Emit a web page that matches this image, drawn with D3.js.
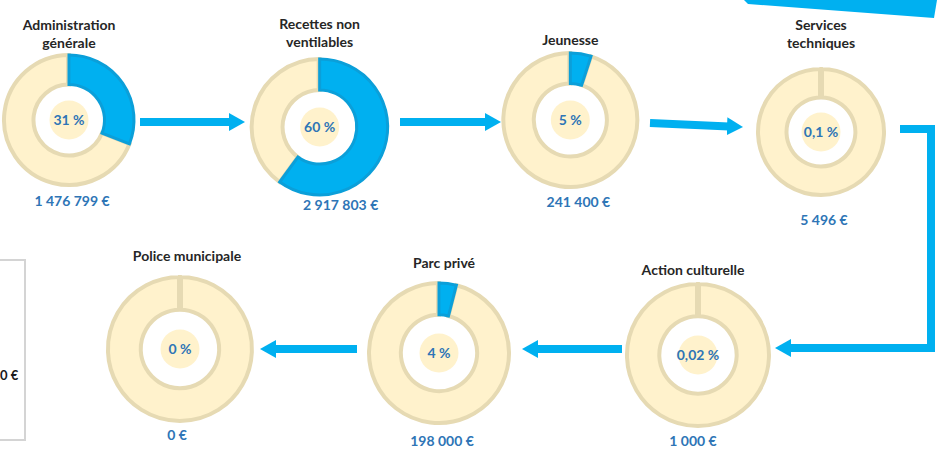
<!DOCTYPE html>
<html>
<head>
<meta charset="utf-8">
<script src="https://cdn.jsdelivr.net/npm/d3@7"></script>
<style>
  html, body { margin: 0; padding: 0; background: #fff; }
  svg { display: block; font-family: Lato, "Open Sans", sans-serif; }
</style>
</head>
<body>
<div id="chart"></div>
<script>
// Data
const categories = ["Administration générale", "Recettes non ventilables", "Jeunesse", "Services techniques",
                    "Police municipale", "Parc privé", "Action culturelle"];
const titleLines = [["Administration", "générale"], ["Recettes non", "ventilables"], ["Jeunesse"], ["Services", "techniques"],
                    ["Police municipale"], ["Parc privé"], ["Action culturelle"]];
const shares = [31, 60, 5, 0.1, 0, 4, 0.02];
const shareLabels = ["31 %", "60 %", "5 %", "0,1 %", "0 %", "4 %", "0,02 %"];
const amounts = [1476799, 2917803, 241400, 5496, 0, 198000, 1000];

// Layout of the slide (donut positions, label offsets)
const width = 937, height = 451;
const topRow = categories.slice(0, 4);
const bottomRow = [categories[4], categories[5], categories[6]];
const xTop = d3.scalePoint().domain(topRow).range([69, 821]);
const xBottom = d3.scalePoint().domain(bottomRow).range([180, 698]);
const layout = [
  {cy: 120, r: 67, titleY: 30, valueY: 206},
  {cy: 127, r: 70, titleY: 29, valueY: 210, valueDx: 21},
  {cy: 120, r: 69, titleY: 45, valueY: 207, valueDx: 8},
  {cy: 132, r: 65, titleY: 30, valueY: 225},
  {cy: 349, r: 74, titleY: 261, valueY: 440, titleDx: 7, valueDx: -3},
  {cy: 353, r: 72, titleY: 268, valueY: 446, titleDx: 5},
  {cy: 355, r: 73, titleY: 275, valueY: 446, titleDx: -5, valueDx: -5}
];

const beige = "#fff2cc", beigeStroke = "#e6dab3";
const blue = "#00b0f0", blueStroke = "#0b9fd9";
const textBlue = "#2e75b6";

const fmt = d3.formatLocale({decimal: ",", thousands: "\u00a0", grouping: [3], currency: ["", "\u00a0€"]}).format("$,");

const svg = d3.select("#chart").append("svg")
    .attr("width", width)
    .attr("height", height);

// arrow head marker
svg.append("defs").append("marker")
    .attr("id", "head")
    .attr("markerUnits", "userSpaceOnUse")
    .attr("viewBox", "0 0 16 18")
    .attr("refX", 2).attr("refY", 9)
    .attr("markerWidth", 16).attr("markerHeight", 18)
    .attr("orient", "auto")
  .append("path")
    .attr("d", "M0,0L16,9L0,18Z")
    .attr("fill", blue);

// corner banner (cut off in the source slide)
svg.append("path")
    .attr("d", "M744,0L937,0L934,18L748,4Z")
    .attr("fill", blue);

// left frame, cut off in the source slide
svg.append("rect")
    .attr("x", -6).attr("y", 260)
    .attr("width", 31).attr("height", 180)
    .attr("fill", "none")
    .attr("stroke", "#d4d4d4")
    .attr("stroke-width", 2);
svg.append("text")
    .attr("x", 0).attr("y", 380)
    .attr("font-size", 13).attr("font-weight", 700)
    .attr("fill", "#1a1a1a")
    .text("0\u00a0€");

// arrows between the donuts
const arrows = [
  [[140, 122], [231, 122]],
  [[400, 122], [487, 122]],
  [[650, 123], [729, 126.4]],
  [[900, 129], [931, 129], [931, 348], [789, 348]],
  [[622, 349], [536, 349]],
  [[357, 349], [274, 349]]
];
const line = d3.line().curve(d3.curveLinear);
svg.append("g")
  .selectAll("path")
  .data(arrows)
  .join("path")
    .attr("d", line)
    .attr("fill", "none")
    .attr("stroke", blue)
    .attr("stroke-width", 8)
    .attr("stroke-linejoin", "miter")
    .attr("marker-end", "url(#head)");

const pie = d3.pie().sort(null).value(d => d);

const nodes = svg.append("g")
  .selectAll("g")
  .data(categories)
  .join("g")
    .attr("transform", (d, i) => {
      const x = i < 4 ? xTop(d) : xBottom(d);
      return `translate(${x},${layout[i].cy})`;
    });

nodes.each(function(d, i) {
  const g = d3.select(this);
  const L = layout[i];
  const inner = L.r * 0.53, outer = L.r - 2;
  const arc = d3.arc().innerRadius(inner).outerRadius(outer);
  const slices = pie([shares[i], 100 - shares[i]]);
  slices[1].endAngle = Math.min(slices[1].endAngle, 2 * Math.PI - 0.002);

  // remainder of the ring
  g.append("path")
    .attr("d", arc(slices[1]))
    .attr("fill", beige)
    .attr("stroke", beigeStroke)
    .attr("stroke-width", 4);

  // separator at 12 o'clock
  g.append("line")
    .attr("x1", 0).attr("y1", -inner)
    .attr("x2", 0).attr("y2", -outer)
    .attr("stroke", beigeStroke)
    .attr("stroke-width", 6);

  // the share itself
  const s = slices[0];
  if (s.endAngle - s.startAngle > 0.01) {
    g.append("path")
      .attr("d", arc(s))
      .attr("fill", blue)
      .attr("stroke", blueStroke)
      .attr("stroke-width", 3)
      .attr("stroke-linejoin", "miter");
  }

  // beige label background in the hole
  g.append("circle")
    .attr("r", 19.5)
    .attr("fill", beige);

  g.append("text")
    .attr("dy", "0.36em")
    .attr("text-anchor", "middle")
    .attr("font-size", 14).attr("font-weight", 700)
    .attr("fill", textBlue)
    .text(shareLabels[i]);

  const t = g.append("text")
    .attr("text-anchor", "middle")
    .attr("font-size", 14).attr("font-weight", 700)
    .attr("fill", "#262626");
  titleLines[i].forEach((l, k) => {
    t.append("tspan")
      .attr("x", L.titleDx || 0)
      .attr("y", L.titleY - L.cy + k * 18)
      .text(l);
  });

  g.append("text")
    .attr("x", L.valueDx || 3)
    .attr("y", L.valueY - L.cy)
    .attr("text-anchor", "middle")
    .attr("font-size", 14).attr("font-weight", 700)
    .attr("fill", textBlue)
    .text(fmt(amounts[i]));
});
</script>
</body>
</html>
